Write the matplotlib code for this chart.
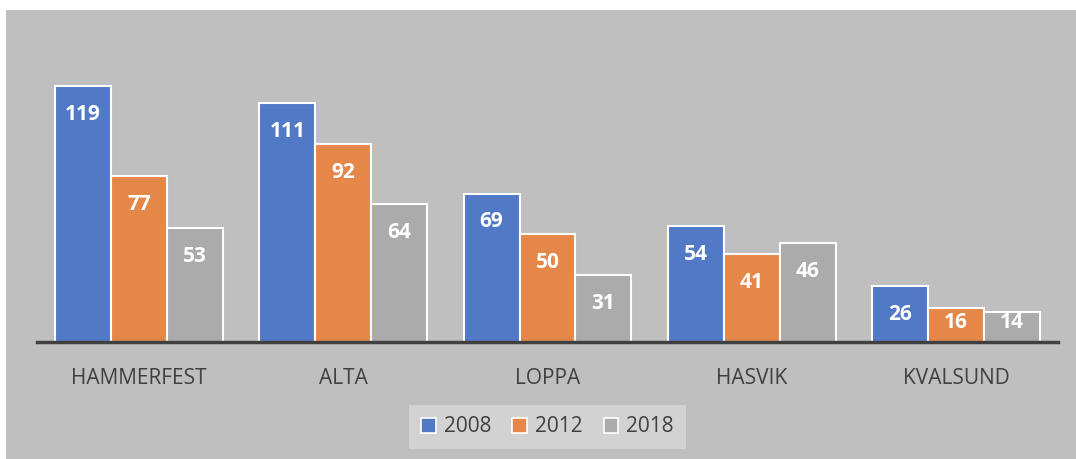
import matplotlib.pyplot as plt
from matplotlib.patches import Patch, Rectangle
import numpy as np

plt.rcParams['font.family'] = ['Open Sans', 'DejaVu Sans']

kommuner = ['HAMMERFEST', 'ALTA', 'LOPPA', 'HASVIK', 'KVALSUND']
years = ['2008', '2012', '2018']
v2008 = [119, 111, 69, 54, 26]
v2012 = [77, 92, 50, 41, 16]
v2018 = [53, 64, 31, 46, 14]
series = [v2008, v2012, v2018]
colors = ['#5179C5', '#E6874A', '#ABABAB']

W, H = 1076, 459
fig = plt.figure(figsize=(W / 100, H / 100), dpi=100)
fig.patch.set_facecolor('white')
# grey chart area
fig.patches.append(Rectangle((6 / W, 0), 1 - 6 / W, 1 - 10 / H, transform=fig.transFigure,
                             facecolor='#BFBFBF', edgecolor='none', zorder=-5))

ax = fig.add_axes([37 / W, (H - 342) / H, (1058 - 37) / W, (342 - 30) / H])
ax.set_facecolor('none')

x = np.arange(len(kommuner))
bw = 0.274
for i, (vals, c) in enumerate(zip(series, colors)):
    pos = x + (i - 1) * bw
    ax.bar(pos, vals, width=bw, color=c, edgecolor='white', linewidth=1.5, zorder=2)
    for p, v in zip(pos, vals):
        ax.text(p, max(v - 13.2, 9), str(v), ha='center', va='center', color='white',
                fontsize=15, fontweight='bold', zorder=3)

ax.set_xlim(-0.5, len(kommuner) - 0.5)
ax.set_ylim(0, 145)
ax.set_xticks(x)
ax.set_xticklabels(kommuner, fontsize=15, color='#404040')
ax.tick_params(axis='x', length=0, pad=19)
ax.set_yticks([])
for s in ['top', 'right', 'left']:
    ax.spines[s].set_visible(False)
ax.spines['bottom'].set_color('#404040')
ax.spines['bottom'].set_linewidth(2.5)
ax.spines['bottom'].set_zorder(4)

handles = [Patch(facecolor=c, edgecolor='white', linewidth=1.2, label=y) for c, y in zip(colors, years)]
leg = fig.legend(handles=handles, loc='center', bbox_to_anchor=(547.5 / W, 1 - 427 / H),
                 ncol=3, frameon=True, fontsize=15, handlelength=0.7, handleheight=0.7,
                 handletextpad=0.4, columnspacing=1.0, borderpad=0.55, fancybox=False)
leg.get_frame().set_facecolor('#D2D2D2')
leg.get_frame().set_edgecolor('none')
leg.get_frame().set_alpha(1)
for t in leg.get_texts():
    t.set_color('#404040')

fig.savefig('out.png', dpi=100)
